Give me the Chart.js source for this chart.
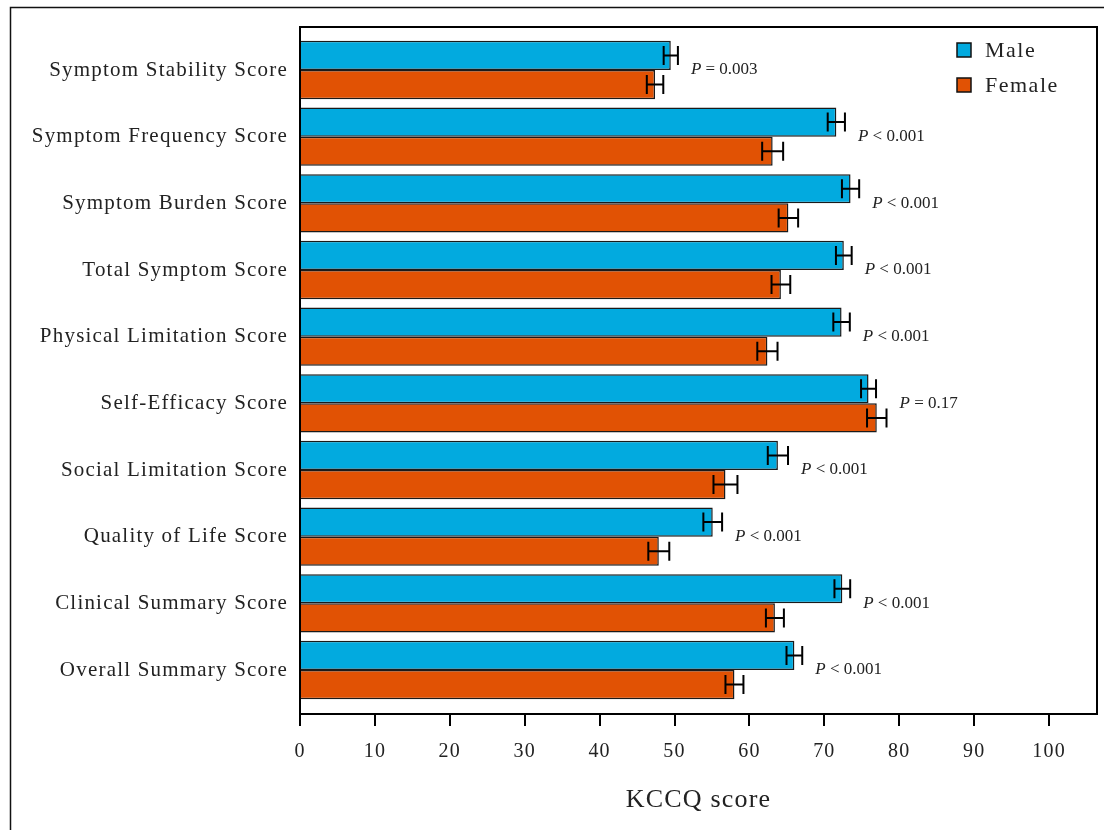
<!DOCTYPE html>
<html>
<head>
<meta charset="utf-8">
<script src="https://cdn.jsdelivr.net/npm/chart.js@4.4.0/dist/chart.umd.min.js"></script>
<style>
  html, body { margin: 0; padding: 0; background: #fff; }
  #wrap { width: 1104px; height: 830px; position: relative; }
</style>
</head>
<body>
<div id="wrap"><canvas id="kccq"></canvas></div>
<script>
// KCCQ domains, top to bottom
const categories = [
  'Symptom Stability Score',
  'Symptom Frequency Score',
  'Symptom Burden Score',
  'Total Symptom Score',
  'Physical Limitation Score',
  'Self-Efficacy Score',
  'Social Limitation Score',
  'Quality of Life Score',
  'Clinical Summary Score',
  'Overall Summary Score'
];
const maleMean   = [49.5, 71.6, 73.5, 72.6, 72.3, 75.9, 63.8, 55.1, 72.4, 66.0];
const maleErr    = [0.95, 1.15, 1.15, 1.05, 1.1, 1.0, 1.35, 1.25, 1.05, 1.05];
const femaleMean = [47.4, 63.1, 65.2, 64.2, 62.4, 77.0, 56.8, 47.9, 63.4, 58.0];
const femaleErr  = [1.1, 1.4, 1.3, 1.25, 1.35, 1.3, 1.6, 1.4, 1.2, 1.2];
const pText = ['= 0.003', '< 0.001', '< 0.001', '< 0.001', '< 0.001',
               '= 0.17', '< 0.001', '< 0.001', '< 0.001', '< 0.001'];
const xTicks = [0, 10, 20, 30, 40, 50, 60, 70, 80, 90, 100];

const serif = '"Liberation Serif", "Times New Roman", serif';

function pts(arr) {
  return arr.map(function(v, i){ return {x: v, y: i}; });
}

// outer figure frame + loose letter spacing for the axis text
const framePlugin = {
  id: 'frame',
  beforeDraw: function(chart){
    const ctx = chart.ctx;
    ctx.save();
    ctx.fillStyle = '#fff';
    ctx.fillRect(0, 0, chart.width, chart.height);
    ctx.strokeStyle = '#111';
    ctx.lineWidth = 1.5;
    ctx.strokeRect(10.5, 7.5, chart.width + 20, chart.height + 20);
    ctx.restore();
    ctx.letterSpacing = '1.2px';
  },
  beforeDatasetsDraw: function(chart){
    chart.ctx.letterSpacing = '0px';
  },
  afterDraw: function(chart){
    // top and right edges of the plot box
    const a = chart.chartArea, ctx = chart.ctx;
    ctx.save();
    ctx.strokeStyle = '#000';
    ctx.lineWidth = 2;
    ctx.beginPath();
    ctx.moveTo(a.left, a.top);
    ctx.lineTo(a.right, a.top);
    ctx.lineTo(a.right, a.bottom);
    ctx.stroke();
    ctx.restore();
  }
};

const errPlugin = {
  id: 'errbars',
  afterDatasetsDraw: function(chart){
    const ctx = chart.ctx;
    const xs = chart.scales.x, ys = chart.scales.y;
    const errs = [maleErr, femaleErr];
    ctx.save();
    ctx.strokeStyle = '#000';
    ctx.lineWidth = 2;
    chart.data.datasets.forEach(function(ds, d){
      const meta = chart.getDatasetMeta(d);
      meta.data.forEach(function(bar, i){
        const v = ds.data[i].x;
        const lo = xs.getPixelForValue(v - errs[d][i]);
        const hi = xs.getPixelForValue(v + errs[d][i]);
        const y = bar.y;
        ctx.beginPath();
        ctx.moveTo(lo, y); ctx.lineTo(hi, y);
        ctx.moveTo(lo, y - 9.5); ctx.lineTo(lo, y + 9.5);
        ctx.moveTo(hi, y - 9.5); ctx.lineTo(hi, y + 9.5);
        ctx.stroke();
      });
    });
    ctx.restore();

    // P value labels
    ctx.save();
    ctx.fillStyle = '#222';
    ctx.textBaseline = 'middle';
    categories.forEach(function(c, i){
      const top = Math.max(maleMean[i] + maleErr[i], femaleMean[i] + femaleErr[i]);
      let x = xs.getPixelForValue(top) + 13;
      const y = ys.getPixelForValue(i);
      ctx.font = 'italic 17px ' + serif;
      ctx.fillText('P', x, y);
      x += ctx.measureText('P ').width;
      ctx.font = '17px ' + serif;
      ctx.fillText(pText[i], x, y);
    });
    ctx.restore();
  }
};

const legendPlugin = {
  id: 'boxLegend',
  afterDraw: function(chart){
    const ctx = chart.ctx;
    ctx.save();
    ctx.font = '22px ' + serif;
    ctx.letterSpacing = '1.5px';
    ctx.textBaseline = 'middle';
    chart.data.datasets.forEach(function(ds, d){
      const y = 50 + d * 35;
      ctx.fillStyle = ds.backgroundColor;
      ctx.fillRect(957, y - 7, 14, 14);
      ctx.strokeStyle = '#111';
      ctx.lineWidth = 1.5;
      ctx.strokeRect(957, y - 7, 14, 14);
      ctx.fillStyle = '#222';
      ctx.fillText(ds.label, 985, y + 1);
    });
    ctx.restore();
    ctx.letterSpacing = '0px';
  }
};

window.onload = function(){
  const ctx = document.getElementById('kccq');

  const config = {
    type: 'bar',
    data: {
      datasets: [
        {
          label: 'Male',
          data: pts(maleMean),
          backgroundColor: '#02aadf',
          borderColor: '#1a1a1a',
          borderWidth: 1.5
        },
        {
          label: 'Female',
          data: pts(femaleMean),
          backgroundColor: '#e15204',
          borderColor: '#1a1a1a',
          borderWidth: 1.5
        }
      ]
    },
    options: {
      indexAxis: 'y',
      responsive: true,
      maintainAspectRatio: false,
      animation: false,
      categoryPercentage: 0.875,
      barPercentage: 1.0,
      layout: { padding: { top: 27, right: 7, left: 0, bottom: 0 } },
      plugins: {
        legend: { display: false },
        tooltip: { enabled: false }
      },
      scales: {
        x: {
          type: 'linear',
          min: 0,
          max: 106.4,
          afterBuildTicks: function(s){ s.ticks = xTicks.map(function(v){ return {value: v}; }); },
          afterFit: function(s){ s.height = 116; },
          ticks: {
            includeBounds: false,
            color: '#222',
            padding: 14,
            maxRotation: 0,
            font: { family: serif, size: 20 }
          },
          grid: {
            drawOnChartArea: false,
            drawTicks: true,
            tickLength: 12,
            color: '#000',
            lineWidth: 2
          },
          border: { display: true, color: '#000', width: 2 },
          title: {
            display: true,
            text: 'KCCQ score',
            color: '#222',
            font: { family: serif, size: 26 },
            padding: { top: 0, bottom: 14 }
          }
        },
        y: {
          type: 'linear',
          reverse: true,
          offset: false,
          min: -0.645,
          max: 9.66,
          afterBuildTicks: function(s){ s.ticks = categories.map(function(c, i){ return {value: i}; }); },
          afterFit: function(s){ s.width = 300; },
          ticks: {
            includeBounds: false,
            color: '#222',
            padding: 12,
            autoSkip: false,
            font: { family: serif, size: 21 },
            callback: function(v){ return categories[v]; }
          },
          grid: { display: false, drawTicks: false, offset: false },
          border: { display: true, color: '#000', width: 2 }
        }
      }
    },
    plugins: [framePlugin, errPlugin, legendPlugin]
  };

  new Chart(ctx, config);
};
</script>
</body>
</html>
